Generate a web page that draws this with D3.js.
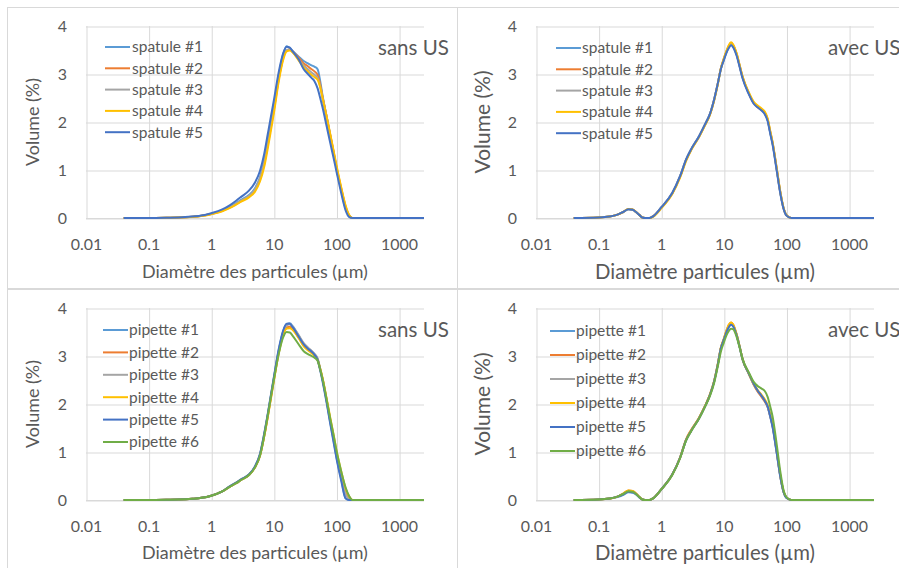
<!DOCTYPE html>
<html><head><meta charset="utf-8">
<script src="https://cdn.jsdelivr.net/npm/d3@7"></script>
<style>body{margin:0;background:#fff;} svg{display:block;font-family:Lato,"Open Sans",sans-serif;}</style>
</head><body><svg id="c" width="899" height="568"></svg>
<script>
// ---------- DATA ----------
const xTicks = [0.01, 0.1, 1, 10, 100, 1000];
const xTickLabels = ["0.01", "0.1", "1", "10", "100", "1000"];
const yTicks = [0, 1, 2, 3, 4];
const seriesColors = ["#5B9BD5", "#ED7D31", "#A5A5A5", "#FFC000", "#4472C4", "#70AD47"];

const spatuleNames = ["spatule #1", "spatule #2", "spatule #3", "spatule #4", "spatule #5"];
const pipetteNames = ["pipette #1", "pipette #2", "pipette #3", "pipette #4", "pipette #5", "pipette #6"];

// particle sizes (µm) – "sans US"
const sizesSans = [0.04,0.1,0.2,0.3,0.5,0.7,1,1.5,2,2.5,3,4,5,6,7,8,9,10,12,14,16,18,20,25,30,35,40,45,50,55,60,70,80,90,100,120,140,160,180,200,500,2500];
// particle sizes (µm) – "avec US"
const sizesAvec = [0.04,0.1,0.15,0.2,0.25,0.3,0.35,0.4,0.45,0.5,0.55,0.65,0.75,1,1.5,2,2.5,3,4,5,6,7,8,9,10,11,12,13,14,16,18,20,25,30,35,40,45,50,55,60,70,80,90,100,120,500,2500];

// spatule, sans US
const spatuleSans1 = [0,0,0.004,0.008,0.025,0.045,0.09,0.16,0.24,0.31,0.38,0.48,0.62,0.85,1.2,1.62,2.0,2.35,2.98,3.4,3.58,3.54,3.48,3.36,3.27,3.22,3.18,3.15,3.1,2.85,2.55,2.1,1.7,1.35,1.03,0.56,0.2,0.04,0,0,0,0];
const spatuleSans2 = [0,0,0.004,0.008,0.025,0.045,0.085,0.15,0.22,0.29,0.35,0.45,0.58,0.8,1.12,1.52,1.9,2.25,2.9,3.32,3.49,3.51,3.47,3.34,3.22,3.16,3.1,3.05,2.98,2.78,2.52,2.1,1.72,1.38,1.07,0.6,0.24,0.05,0,0,0,0];
const spatuleSans3 = [0,0,0.004,0.008,0.025,0.045,0.085,0.15,0.23,0.3,0.36,0.46,0.6,0.82,1.15,1.55,1.93,2.28,2.92,3.33,3.5,3.51,3.46,3.3,3.18,3.1,3.03,2.98,2.92,2.74,2.5,2.08,1.7,1.36,1.05,0.58,0.22,0.05,0,0,0,0];
const spatuleSans4 = [0,0,0.004,0.008,0.022,0.04,0.08,0.14,0.21,0.28,0.34,0.43,0.55,0.76,1.06,1.45,1.83,2.18,2.85,3.28,3.47,3.49,3.45,3.28,3.14,3.05,2.98,2.93,2.88,2.72,2.5,2.1,1.73,1.4,1.1,0.62,0.26,0.06,0,0,0,0];
const spatuleSans5 = [0,0,0.005,0.01,0.03,0.05,0.1,0.18,0.27,0.36,0.44,0.57,0.74,0.98,1.33,1.75,2.12,2.45,3.05,3.42,3.57,3.55,3.47,3.3,3.1,3.0,2.92,2.84,2.7,2.5,2.3,1.9,1.55,1.25,0.97,0.5,0.16,0.02,0,0,0,0];

// spatule, avec US
const spatuleAvec1 = [0,0.01,0.03,0.07,0.13,0.18,0.17,0.12,0.06,0.01,0,0,0.04,0.22,0.52,0.87,1.22,1.43,1.7,1.95,2.17,2.47,2.8,3.12,3.3,3.45,3.56,3.62,3.58,3.4,3.15,2.92,2.6,2.4,2.31,2.25,2.18,2.04,1.78,1.55,1.0,0.52,0.2,0.06,0,0,0];
const spatuleAvec2 = [0,0.01,0.03,0.07,0.13,0.19,0.18,0.12,0.06,0.01,0,0,0.04,0.21,0.51,0.86,1.21,1.42,1.69,1.94,2.16,2.46,2.8,3.13,3.32,3.47,3.59,3.65,3.61,3.42,3.16,2.93,2.6,2.39,2.3,2.25,2.19,2.05,1.8,1.57,1.02,0.53,0.2,0.06,0,0,0];
const spatuleAvec3 = [0,0.01,0.03,0.07,0.13,0.18,0.17,0.12,0.06,0.01,0,0,0.04,0.22,0.52,0.87,1.22,1.43,1.7,1.95,2.17,2.47,2.8,3.12,3.31,3.46,3.57,3.63,3.59,3.41,3.15,2.92,2.6,2.4,2.32,2.26,2.19,2.05,1.79,1.56,1.01,0.52,0.2,0.06,0,0,0];
const spatuleAvec4 = [0,0.01,0.03,0.07,0.13,0.19,0.18,0.12,0.06,0.01,0,0,0.03,0.2,0.5,0.84,1.19,1.41,1.68,1.93,2.15,2.45,2.78,3.12,3.32,3.48,3.6,3.66,3.62,3.43,3.17,2.94,2.62,2.42,2.34,2.28,2.22,2.08,1.82,1.58,1.03,0.54,0.21,0.06,0,0,0];
const spatuleAvec5 = [0,0.01,0.03,0.07,0.13,0.18,0.17,0.12,0.06,0.01,0,0,0.04,0.22,0.52,0.87,1.22,1.43,1.7,1.95,2.17,2.47,2.8,3.11,3.29,3.44,3.54,3.6,3.56,3.38,3.13,2.9,2.58,2.38,2.3,2.24,2.16,2.02,1.76,1.53,0.98,0.5,0.19,0.05,0,0,0];

// pipette, sans US
const pipetteSans1 = [0,0,0.004,0.008,0.025,0.045,0.09,0.18,0.28,0.35,0.42,0.52,0.69,0.94,1.35,1.77,2.17,2.53,3.12,3.5,3.66,3.68,3.62,3.42,3.25,3.16,3.1,3.03,2.93,2.72,2.5,2.04,1.6,1.24,0.9,0.42,0.04,0,0,0,0,0];
const pipetteSans2 = [0,0,0.004,0.008,0.025,0.045,0.09,0.18,0.28,0.35,0.42,0.52,0.68,0.92,1.32,1.74,2.14,2.5,3.08,3.45,3.59,3.61,3.56,3.38,3.22,3.14,3.08,3.01,2.92,2.73,2.52,2.07,1.65,1.3,0.97,0.5,0.15,0.03,0,0,0,0];
const pipetteSans3 = [0,0,0.004,0.008,0.025,0.045,0.09,0.18,0.29,0.36,0.43,0.53,0.7,0.95,1.36,1.78,2.18,2.54,3.12,3.49,3.64,3.66,3.61,3.43,3.27,3.18,3.11,3.04,2.95,2.74,2.52,2.06,1.63,1.28,0.95,0.48,0.12,0.02,0,0,0,0];
const pipetteSans4 = [0,0,0.004,0.008,0.025,0.045,0.09,0.18,0.28,0.35,0.42,0.52,0.68,0.92,1.32,1.73,2.12,2.48,3.06,3.43,3.57,3.58,3.54,3.37,3.2,3.12,3.06,3.0,2.92,2.74,2.54,2.1,1.7,1.36,1.04,0.58,0.24,0.07,0,0,0,0];
const pipetteSans5 = [0,0,0.004,0.008,0.025,0.045,0.09,0.18,0.29,0.36,0.43,0.53,0.7,0.96,1.38,1.8,2.2,2.56,3.15,3.52,3.67,3.67,3.6,3.4,3.24,3.15,3.09,3.02,2.92,2.7,2.47,2.01,1.57,1.2,0.87,0.38,0.03,0,0,0,0,0];
const pipetteSans6 = [0,0,0.004,0.008,0.025,0.045,0.09,0.18,0.28,0.35,0.42,0.52,0.68,0.92,1.33,1.76,2.16,2.5,3.05,3.38,3.5,3.49,3.42,3.24,3.1,3.04,3.0,2.96,2.9,2.72,2.52,2.08,1.68,1.35,1.03,0.58,0.26,0.08,0,0,0,0];

// pipette, avec US
const pipetteAvec1 = [0,0.01,0.03,0.06,0.11,0.16,0.15,0.11,0.05,0.01,0,0,0.04,0.22,0.53,0.88,1.25,1.44,1.7,1.95,2.19,2.47,2.82,3.17,3.34,3.5,3.61,3.66,3.63,3.43,3.17,2.92,2.63,2.41,2.26,2.16,2.06,1.94,1.74,1.53,0.98,0.48,0.17,0.05,0,0,0];
const pipetteAvec2 = [0,0.01,0.03,0.07,0.14,0.2,0.19,0.13,0.06,0.01,0,0,0.04,0.22,0.53,0.89,1.27,1.46,1.71,1.96,2.2,2.48,2.83,3.18,3.36,3.53,3.65,3.7,3.66,3.45,3.18,2.92,2.63,2.4,2.25,2.15,2.05,1.94,1.75,1.55,1.0,0.49,0.17,0.05,0,0,0];
const pipetteAvec3 = [0,0.01,0.03,0.07,0.13,0.18,0.17,0.12,0.06,0.01,0,0,0.04,0.22,0.53,0.88,1.25,1.44,1.7,1.95,2.19,2.47,2.82,3.17,3.34,3.5,3.62,3.67,3.64,3.44,3.17,2.92,2.64,2.42,2.28,2.18,2.08,1.96,1.76,1.55,1.0,0.49,0.17,0.05,0,0,0];
const pipetteAvec4 = [0,0.01,0.03,0.07,0.14,0.2,0.19,0.13,0.06,0.01,0,0,0.04,0.22,0.53,0.88,1.26,1.45,1.71,1.96,2.2,2.48,2.83,3.18,3.36,3.53,3.65,3.7,3.66,3.45,3.18,2.93,2.64,2.42,2.28,2.19,2.1,1.98,1.78,1.57,1.02,0.5,0.18,0.05,0,0,0];
const pipetteAvec5 = [0,0.01,0.03,0.07,0.12,0.17,0.16,0.12,0.05,0.01,0,0,0.04,0.22,0.53,0.88,1.25,1.44,1.7,1.95,2.19,2.47,2.82,3.17,3.34,3.5,3.6,3.65,3.62,3.43,3.17,2.92,2.64,2.42,2.27,2.17,2.07,1.95,1.74,1.52,0.97,0.47,0.16,0.04,0,0,0];
const pipetteAvec6 = [0,0.01,0.03,0.07,0.13,0.18,0.17,0.12,0.06,0.01,0,0,0.04,0.22,0.52,0.87,1.24,1.43,1.69,1.94,2.17,2.44,2.78,3.1,3.28,3.43,3.52,3.57,3.56,3.4,3.16,2.93,2.66,2.46,2.37,2.32,2.27,2.15,1.95,1.74,1.15,0.58,0.2,0.06,0,0,0];

// ---------- DRAW ----------
const svg = d3.select("#c");
svg.append("rect").attr("width", 899).attr("height", 568).attr("fill", "#fff");

const textColor = "#595959";
const gridColor = "#d9d9d9";

// measure a string at 20px and return the font size giving the wanted width
const probe = svg.append("text").attr("font-size", 20).attr("x", -999).attr("y", -999);
function fitSize(str, width) {
  probe.text(str);
  const w = probe.node().getComputedTextLength();
  return 20 * width / w;
}
const tickSize = fitSize("1000", 37);
const legendSize = fitSize("spatule #1", 71);
const titleSize = fitSize("sans US", 71);
const xlabSmall = fitSize("Diamètre des particules (µm)", 226);
const xlabLarge = fitSize("Diamètre particules (µm)", 220);
const ylabSmall = fitSize("Volume (%)", 88);
const ylabLarge = fitSize("Volume (%)", 103);
probe.remove();

const panels = [
  {box:[7,7,450,281], left:86, right:424, top:26, bottom:218, sizes:sizesSans,
   series:[spatuleSans1,spatuleSans2,spatuleSans3,spatuleSans4,spatuleSans5], names:spatuleNames,
   title:"sans US", tx:378, ty:48, xlabel:"Diamètre des particules (µm)", xlabelY:272, xs:xlabSmall, ys:ylabSmall,
   leg:{x1:105, x2:130, tx:132, y0:47, dy:21.3}},
  {box:[457,7,450,281], left:536, right:874, top:26, bottom:218, sizes:sizesAvec,
   series:[spatuleAvec1,spatuleAvec2,spatuleAvec3,spatuleAvec4,spatuleAvec5], names:spatuleNames,
   title:"avec US", tx:828, ty:48, xlabel:"Diamètre particules (µm)", xlabelY:272, xs:xlabLarge, ys:ylabLarge,
   leg:{x1:556, x2:581, tx:582, y0:48, dy:21.3}},
  {box:[7,289,450,290], left:86, right:424, top:308, bottom:500, sizes:sizesSans,
   series:[pipetteSans1,pipetteSans2,pipetteSans3,pipetteSans4,pipetteSans5,pipetteSans6], names:pipetteNames,
   title:"sans US", tx:378, ty:330, xlabel:"Diamètre des particules (µm)", xlabelY:553, xs:xlabSmall, ys:ylabSmall,
   leg:{x1:103, x2:128, tx:129, y0:330, dy:22.4}},
  {box:[457,289,450,290], left:536, right:874, top:308, bottom:500, sizes:sizesAvec,
   series:[pipetteAvec1,pipetteAvec2,pipetteAvec3,pipetteAvec4,pipetteAvec5,pipetteAvec6], names:pipetteNames,
   title:"avec US", tx:828, ty:330, xlabel:"Diamètre particules (µm)", xlabelY:553, xs:xlabLarge, ys:ylabLarge,
   leg:{x1:550, x2:575, tx:576, y0:331, dy:24}}
];

panels.forEach(p => {
  const g = svg.append("g");
  g.append("rect").attr("x", p.box[0]+0.5).attr("y", p.box[1]+0.5)
    .attr("width", p.box[2]).attr("height", p.box[3])
    .attr("fill", "none").attr("stroke", gridColor).attr("stroke-width", 1);

  const x = d3.scaleLog().domain([0.01, 2500]).range([p.left, p.right]);
  const y = d3.scaleLinear().domain([0, 4]).range([p.bottom, p.top]);

  // horizontal grid + y labels
  const ya = g.append("g").attr("transform", `translate(${p.left},0)`)
    .call(d3.axisLeft(y).tickValues(yTicks).tickSize(-(p.right - p.left)).tickPadding(19).tickFormat(d3.format("d")));
  ya.select(".domain").remove();
  ya.selectAll("line").attr("stroke", gridColor).attr("transform", "translate(0,0.5)");
  ya.selectAll("text").attr("fill", textColor).attr("font-size", tickSize).attr("font-family", "Lato");

  // vertical grid + x labels
  const xa = g.append("g").attr("transform", `translate(0,${p.bottom})`)
    .call(d3.axisBottom(x).tickValues(xTicks).tickSize(-(p.bottom - p.top)).tickPadding(21)
      .tickFormat((d, i) => xTickLabels[i]));
  xa.select(".domain").remove();
  xa.selectAll("line").attr("stroke", gridColor).attr("transform", "translate(0.5,0)");
  xa.selectAll("text").attr("fill", textColor).attr("font-size", tickSize).attr("font-family", "Lato");

  // zero baseline to axis end
  g.append("line").attr("x1", p.left).attr("x2", p.right)
    .attr("y1", y(0) + 0.5).attr("y2", y(0) + 0.5).attr("stroke", gridColor);

  // axis titles
  g.append("text").attr("x", (p.left + p.right) / 2).attr("y", p.xlabelY).attr("dy", "0.35em")
    .attr("text-anchor", "middle").attr("fill", textColor).attr("font-size", p.xs)
    .text(p.xlabel);
  g.append("text").attr("transform", `translate(${p.left - 53},${(p.top + p.bottom) / 2}) rotate(-90)`)
    .attr("dy", "0.35em").attr("text-anchor", "middle").attr("fill", textColor)
    .attr("font-size", p.ys).text("Volume (%)");

  // series
  const line = d3.line().x(d => x(d[0])).y(d => y(d[1])).curve(d3.curveMonotoneX);
  p.series.forEach((vals, i) => {
    const pts = p.sizes.map((s, k) => [s, vals[k]]);
    g.append("path").datum(pts).attr("d", line).attr("fill", "none")
      .attr("stroke", seriesColors[i]).attr("stroke-width", 2).attr("stroke-linejoin", "round");
  });

  // legend
  p.names.forEach((n, i) => {
    const yy = p.leg.y0 + i * p.leg.dy;
    g.append("line").attr("x1", p.leg.x1).attr("x2", p.leg.x2).attr("y1", yy).attr("y2", yy)
      .attr("stroke", seriesColors[i]).attr("stroke-width", 2);
    g.append("text").attr("x", p.leg.tx).attr("y", yy).attr("dy", "0.35em")
      .attr("fill", textColor).attr("font-size", legendSize).text(n);
  });

  // panel title
  g.append("text").attr("x", p.tx).attr("y", p.ty).attr("dy", "0.35em")
    .attr("fill", textColor).attr("font-size", titleSize).text(p.title);
});
</script></body></html>
